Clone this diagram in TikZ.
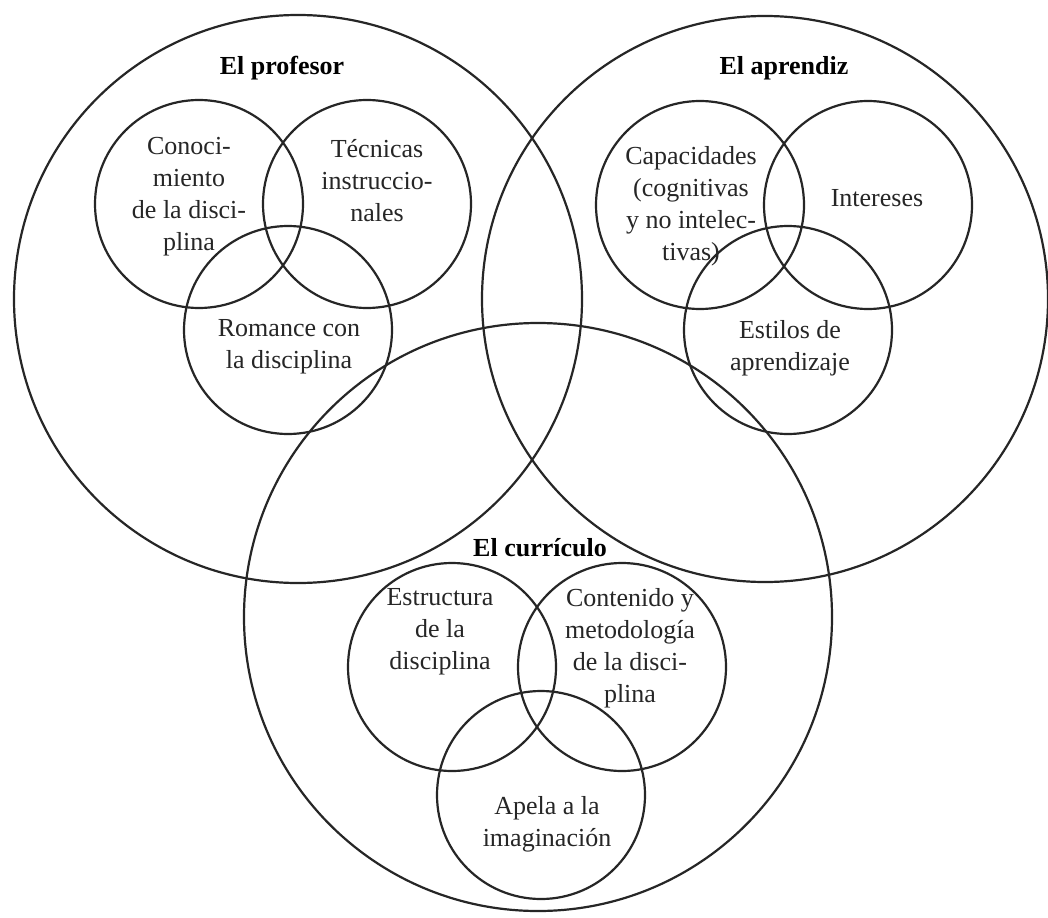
\documentclass[tikz,border=0pt]{standalone}
\usepackage{fontspec}
\setmainfont{Liberation Serif}
\begin{document}
\begin{tikzpicture}[x=1pt,y=-1pt,
  ring/.style={draw=black!85, line width=2.2pt, circle, minimum size=#1, inner sep=0pt},
  lbl/.style={align=center, font=\fontsize{26}{32}\selectfont, text=black!85, inner sep=0pt},
  ttl/.style={font=\fontsize{26}{32}\selectfont\bfseries, text=black, inner sep=0pt}]
\useasboundingbox[fill=white] (0,0) rectangle (1048,917);

% three main areas
\node[ring=568pt] (prof) at (298,299) {};
\node[ring=566pt] (apr)  at (765,299) {};
\node[ring=588pt] (cur)  at (538,617) {};

% teacher
\node[ring=208pt] (conoc) at (199,204) {};
\node[ring=208pt] (tecn)  at (367,204) {};
\node[ring=208pt] (roman) at (288,330) {};

% learner
\node[ring=208pt] (capac) at (700,205) {};
\node[ring=208pt] (inter) at (868,205) {};
\node[ring=208pt] (estil) at (788,330) {};

% curriculum
\node[ring=208pt] (estru) at (452,667) {};
\node[ring=208pt] (conte) at (622,667) {};
\node[ring=208pt] (apela) at (541,795) {};

% titles
\node[ttl] (tprof) at (282,68) {El profesor};
\node[ttl] (tapr)  at (784,68) {El aprendiz};
\node[ttl] (tcur)  at (540,548) {El currículo};

% labels
\node[lbl] (lconoc) at (189,197) {Conoci-\\miento\\de la disci-\\plina};
\node[lbl] (ltecn)  at (377,181) {Técnicas\\instruccio-\\nales};
\node[lbl] (lroman) at (289,347) {Romance con\\la disciplina};
\node[lbl] (lcapac) at (691,206) {Capacidades\\(cognitivas\\y no intelec-\\tivas)};
\node[lbl] (linter) at (877,198) {Intereses};
\node[lbl] (lestil) at (790,348) {Estilos de\\aprendizaje};
\node[lbl] (lestru) at (440,632) {Estructura\\de la\\disciplina};
\node[lbl] (lconte) at (630,648) {Contenido y\\metodología\\de la disci-\\plina};
\node[lbl] (lapela) at (547,824) {Apela a la\\imaginación};
\end{tikzpicture}
\end{document}
